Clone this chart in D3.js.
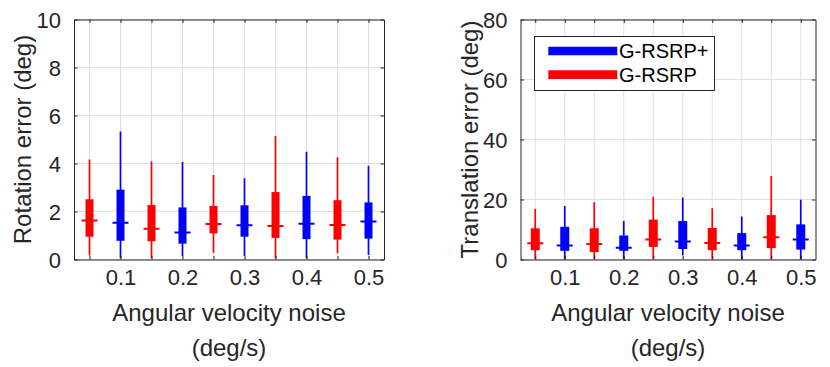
<!DOCTYPE html>
<html>
<head>
<meta charset="utf-8">
<script src="https://cdn.jsdelivr.net/npm/d3@7"></script>
<style>
  html, body { margin: 0; padding: 0; background: #fff; }
  svg { display: block; font-family: "Liberation Sans", Arial, sans-serif; }
</style>
</head>
<body>
<svg id="chart" width="830" height="367"></svg>
<script>
// ---------- data ----------
const seriesNames = ["G-RSRP+", "G-RSRP"];
const seriesColors = ["#0000ff", "#ff0000"];
// box positions (angular velocity noise, deg/s)
const rsrpPlusX = [0.1, 0.2, 0.3, 0.4, 0.5];
const rsrpX = [0.05, 0.15, 0.25, 0.35, 0.45];
const xTicks = [0.05, 0.1, 0.15, 0.2, 0.25, 0.3, 0.35, 0.4, 0.45, 0.5];
const xTickLabels = ["", "0.1", "", "0.2", "", "0.3", "", "0.4", "", "0.5"];
// [lower whisker, q1, median, q3, upper whisker]
const rotRsrpPlus = [
  [0.05, 0.78, 1.53, 2.91, 5.33],
  [0.15, 0.66, 1.13, 2.17, 4.06],
  [0.15, 0.95, 1.43, 2.26, 3.39],
  [0.05, 0.85, 1.49, 2.65, 4.49],
  [0.19, 0.87, 1.58, 2.38, 3.91]
];
const rotRsrp = [
  [0.17, 0.95, 1.62, 2.51, 4.17],
  [0.05, 0.76, 1.28, 2.27, 4.09],
  [0.28, 1.09, 1.48, 2.23, 3.52],
  [0.05, 0.90, 1.40, 2.81, 5.15],
  [0.26, 0.83, 1.44, 2.47, 4.26]
];
const transRsrpPlus = [
  [0.0, 2.9, 4.7, 10.9, 17.8],
  [0.0, 2.9, 3.9, 8.0, 12.8],
  [1.3, 3.5, 6.0, 12.8, 20.7],
  [0.0, 3.1, 4.7, 8.8, 14.3],
  [0.0, 3.3, 6.7, 11.7, 19.9]
];
const transRsrp = [
  [0.0, 3.1, 5.4, 10.4, 16.8],
  [0.0, 2.5, 5.2, 10.4, 19.1],
  [0.0, 4.2, 6.7, 13.3, 20.9],
  [0.0, 3.1, 5.5, 10.5, 17.1],
  [0.0, 3.8, 7.4, 14.8, 27.8]
];
const rotYTicks = [0, 2, 4, 6, 8, 10];
const transYTicks = [0, 20, 40, 60, 80];
const xLabel1 = "Angular velocity noise";
const xLabel2 = "(deg/s)";
const rotYLabel = "Rotation error (deg)";
const transYLabel = "Translation error (deg)";

// ---------- drawing ----------
const svg = d3.select("#chart");
const axisColor = "#262626";
const gridColor = "#dfdfdf";

function panel(opt) {
  const { left, right, top, bottom, yMax, yTicks, yLabel, yLabelX, boxW, plus, base } = opt;
  const x = d3.scaleLinear().domain([0.025, 0.525]).range([left, right]);
  const y = d3.scaleLinear().domain([0, yMax]).range([bottom, top]);
  const g = svg.append("g");

  // grid
  g.selectAll(".gx").data(xTicks).enter().append("line")
    .attr("x1", d => x(d)).attr("x2", d => x(d))
    .attr("y1", top).attr("y2", bottom)
    .attr("stroke", gridColor).attr("stroke-width", 1);
  g.selectAll(".gy").data(yTicks).enter().append("line")
    .attr("x1", left).attr("x2", right)
    .attr("y1", d => y(d)).attr("y2", d => y(d))
    .attr("stroke", gridColor).attr("stroke-width", 1);

  // boxes
  const sets = [
    { xs: rsrpPlusX, stats: plus, color: seriesColors[0] },
    { xs: rsrpX, stats: base, color: seriesColors[1] }
  ];
  const clip = "clip" + left;
  svg.append("clipPath").attr("id", clip).append("rect")
    .attr("x", left).attr("y", top).attr("width", right - left).attr("height", bottom - top);
  const bg = g.append("g").attr("clip-path", `url(#${clip})`);
  sets.forEach(s => {
    const items = s.stats.map((st, i) => ({ px: s.xs[i], st }));
    const bx = bg.selectAll(null).data(items).enter().append("g");
    bx.append("line")
      .attr("x1", d => x(d.px)).attr("x2", d => x(d.px))
      .attr("y1", d => y(d.st[0])).attr("y2", d => y(d.st[4]))
      .attr("stroke", s.color).attr("stroke-width", 1.7);
    bx.append("rect")
      .attr("x", d => x(d.px) - boxW / 2).attr("width", boxW)
      .attr("y", d => y(d.st[3])).attr("height", d => y(d.st[1]) - y(d.st[3]))
      .attr("fill", s.color);
    bx.append("line")
      .attr("x1", d => x(d.px) - 8).attr("x2", d => x(d.px) + 8)
      .attr("y1", d => y(d.st[2])).attr("y2", d => y(d.st[2]))
      .attr("stroke", s.color).attr("stroke-width", 2);
  });

  // axes (box frame + inward ticks)
  const tl = 3.5;
  const axB = g.append("g").attr("transform", `translate(0,${bottom})`)
    .call(d3.axisBottom(x).tickValues(xTicks).tickSizeInner(-tl).tickSizeOuter(0)
      .tickFormat((d, i) => xTickLabels[i]).tickPadding(10));
  const axT = g.append("g").attr("transform", `translate(0,${top})`)
    .call(d3.axisTop(x).tickValues(xTicks).tickSizeInner(-tl).tickSizeOuter(0).tickFormat(""));
  const axL = g.append("g").attr("transform", `translate(${left},0)`)
    .call(d3.axisLeft(y).tickValues(yTicks).tickSizeInner(-tl).tickSizeOuter(0).tickPadding(13));
  const axR = g.append("g").attr("transform", `translate(${right},0)`)
    .call(d3.axisRight(y).tickValues(yTicks).tickSizeInner(-tl).tickSizeOuter(0).tickFormat(""));
  [axB, axT, axL, axR].forEach(a => {
    a.selectAll("path.domain").attr("stroke", axisColor).attr("stroke-width", 1);
    a.selectAll(".tick line").attr("stroke", axisColor).attr("stroke-width", 1);
    a.selectAll("text").attr("fill", axisColor).style("font-size", "22px")
      .style("font-family", '"Liberation Sans", Arial, sans-serif');
  });
  axB.selectAll("text").attr("dy", "0.71em");
  axL.selectAll("text").attr("dy", "0.36em");

  // labels
  const cx = (left + right) / 2;
  g.append("text").attr("x", cx).attr("y", 320.5).attr("text-anchor", "middle")
    .attr("fill", axisColor).style("font-size", "24px").text(xLabel1);
  g.append("text").attr("x", cx).attr("y", 356).attr("text-anchor", "middle")
    .attr("fill", axisColor).style("font-size", "24px").text(xLabel2);
  g.append("text").attr("transform", `translate(${yLabelX},${(top + bottom) / 2}) rotate(-90)`)
    .attr("text-anchor", "middle").attr("fill", axisColor).style("font-size", "24px").text(yLabel);
  return { x, y, g };
}

panel({ left: 74, right: 384, top: 19.5, bottom: 259.5, yMax: 10, yTicks: rotYTicks,
  yLabel: rotYLabel, yLabelX: 31, boxW: 8, plus: rotRsrpPlus, base: rotRsrp });
const p2 = panel({ left: 520.5, right: 815.5, top: 19.5, bottom: 259.5, yMax: 80, yTicks: transYTicks,
  yLabel: transYLabel, yLabelX: 478, boxW: 9, plus: transRsrpPlus, base: transRsrp });

// legend
const leg = svg.append("g");
leg.append("rect").attr("x", 534.5).attr("y", 36.5).attr("width", 180).attr("height", 54)
  .attr("fill", "#fff").attr("stroke", axisColor).attr("stroke-width", 1);
seriesNames.forEach((name, i) => {
  const yy = 51 + i * 23.7;
  leg.append("line").attr("x1", 548.3).attr("x2", 617.3).attr("y1", yy).attr("y2", yy)
    .attr("stroke", seriesColors[i]).attr("stroke-width", 8.7);
  leg.append("text").attr("x", 619).attr("y", yy).attr("dy", "0.36em")
    .attr("fill", "#000").style("font-size", "20px").text(name);
});
</script>
</body>
</html>
